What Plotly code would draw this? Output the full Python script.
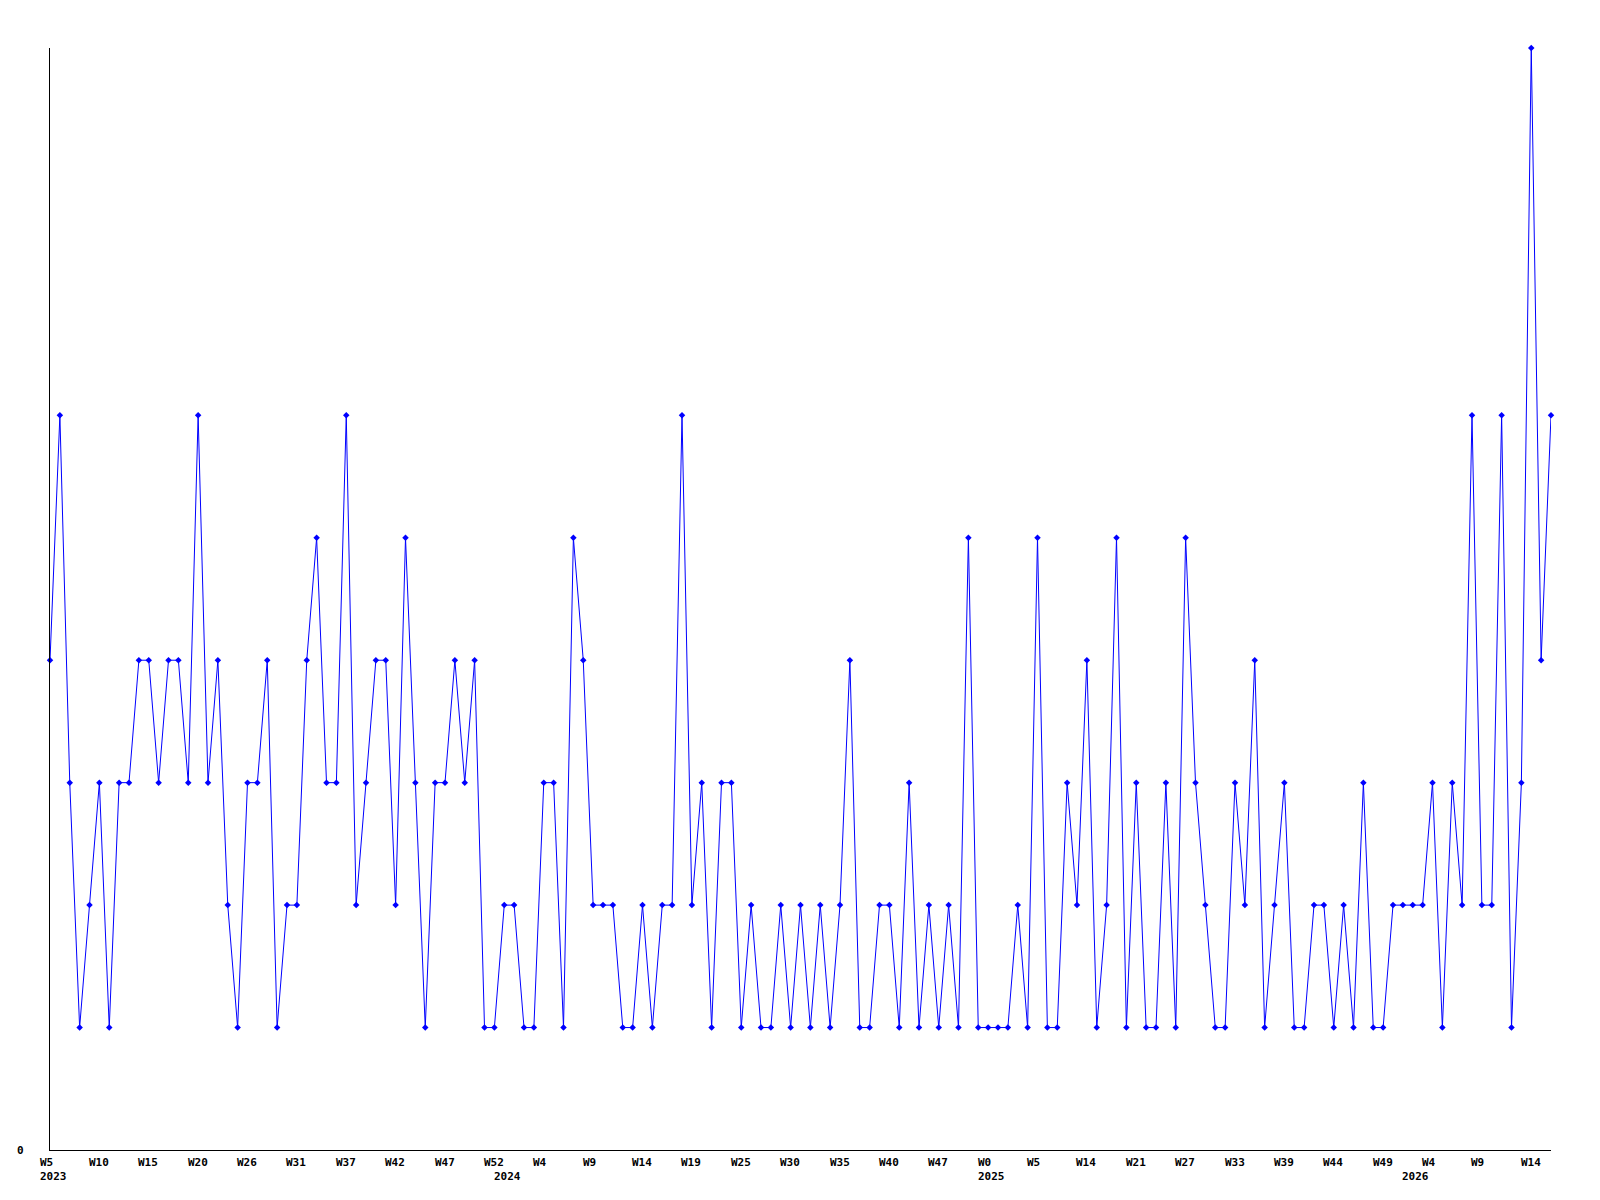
import plotly.graph_objects as go

# weekly counts, one value per point
values = [4, 6, 3, 1, 2, 3, 1, 3, 3, 4,
          4, 3, 4, 4, 3, 6, 3, 4, 2, 1,
          3, 3, 4, 1, 2, 2, 4, 5, 3, 3,
          6, 2, 3, 4, 4, 2, 5, 3, 1, 3,
          3, 4, 3, 4, 1, 1, 2, 2, 1, 1,
          3, 3, 1, 5, 4, 2, 2, 2, 1, 1,
          2, 1, 2, 2, 6, 2, 3, 1, 3, 3,
          1, 2, 1, 1, 2, 1, 2, 1, 2, 1,
          2, 4, 1, 1, 2, 2, 1, 3, 1, 2,
          1, 2, 1, 5, 1, 1, 1, 1, 2, 1,
          5, 1, 1, 3, 2, 4, 1, 2, 5, 1,
          3, 1, 1, 3, 1, 5, 3, 2, 1, 1,
          3, 2, 4, 1, 2, 3, 1, 1, 2, 2,
          1, 2, 1, 3, 1, 1, 2, 2, 2, 2,
          3, 1, 3, 2, 6, 2, 2, 6, 1, 3,
          9, 4, 6]

# week labels shown every 5th point
week_labels = ["W5", "W10", "W15", "W20", "W26", "W31", "W37", "W42", "W47", "W52",
               "W4", "W9", "W14", "W19", "W25", "W30", "W35", "W40", "W47", "W0",
               "W5", "W14", "W21", "W27", "W33", "W39", "W44", "W49", "W4", "W9", "W14"]
week_pos = [i * 5 for i in range(len(week_labels))]

# year labels at the first point of each year
year_labels = ["2023", "2024", "2025", "2026"]
year_pos = [0, 46, 95, 138]

x = list(range(len(values)))

fig = go.Figure()
fig.add_trace(go.Scatter(
    x=x, y=values,
    mode="lines+markers",
    line=dict(color="#0000ff", width=1),
    marker=dict(symbol="diamond", size=5, color="#0000ff"),
    cliponaxis=False,
    showlegend=False,
))

font = dict(family="DejaVu Sans Mono, Liberation Mono, monospace", size=11, color="black")
annots = []
for p, t in zip(week_pos, week_labels):
    annots.append(dict(x=p, y=0, xref="x", yref="paper", text="<b>%s</b>" % t,
                       showarrow=False, xanchor="left", yanchor="middle",
                       xshift=-12.5, yshift=-12, font=font))
for p, t in zip(year_pos, year_labels):
    annots.append(dict(x=p, y=0, xref="x", yref="paper", text="<b>%s</b>" % t,
                       showarrow=False, xanchor="left", yanchor="middle",
                       xshift=-12.5, yshift=-26, font=font))
annots.append(dict(x=0, y=0, xref="paper", yref="paper", text="<b>0</b>",
                   showarrow=False, xanchor="right", yanchor="middle",
                   xshift=-24, font=font))

# page body has an 8px offset, so margins are pulled in by 8
fig.update_layout(
    width=1600, height=1200,
    margin=dict(l=42, r=57, t=40, b=58),
    paper_bgcolor="white", plot_bgcolor="white",
    xaxis=dict(range=[0, len(values) - 1], showgrid=False, zeroline=False,
               showline=True, linecolor="black", linewidth=1,
               showticklabels=False, ticks=""),
    yaxis=dict(range=[0, max(values)], showgrid=False, zeroline=False,
               showline=True, linecolor="black", linewidth=1,
               showticklabels=False, ticks=""),
    annotations=annots,
)

fig.write_html("out.html")
